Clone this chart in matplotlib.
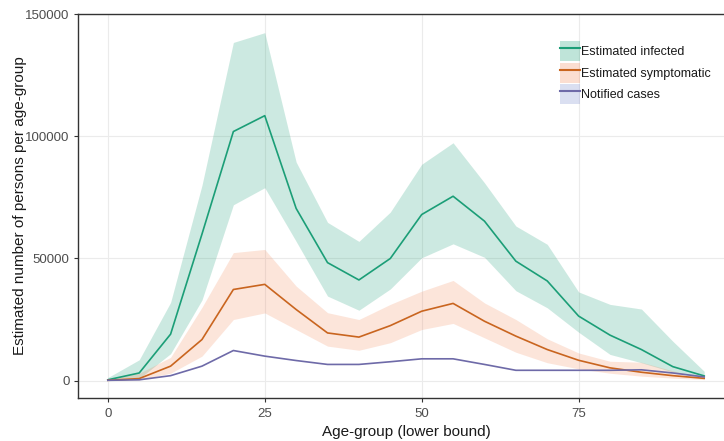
import matplotlib
matplotlib.use("Agg")
import matplotlib.pyplot as plt
from matplotlib.patches import Patch
from matplotlib.lines import Line2D
from matplotlib.legend_handler import HandlerTuple

plt.rcParams["font.family"] = ["Liberation Sans", "DejaVu Sans"]

# Age groups (lower bound, years)
ages = [0, 5, 10, 15, 20, 25, 30, 35, 40, 45, 50, 55, 60, 65, 70, 75, 80, 85, 90, 95]

# Estimated infected: median and uncertainty band
infected = [300, 3100, 19000, 60000, 102000, 108500, 70500, 48300, 41200, 50000,
            68000, 75500, 65300, 48900, 40800, 26400, 18600, 12700, 5700, 1900]
infected_lo = [0, 800, 11000, 33000, 72000, 79000, 57000, 34600, 28800, 37500,
               50300, 56000, 50500, 36800, 29800, 19800, 10700, 7300, 3500, 900]
infected_hi = [1200, 8500, 32000, 80000, 138500, 142500, 89500, 64800, 57000, 69000,
               88600, 97400, 81000, 63300, 55800, 36300, 31200, 29300, 16100, 3800]

# Estimated symptomatic: median and uncertainty band
symptomatic = [100, 800, 5900, 16800, 37300, 39400, 29100, 19500, 17800, 22500,
               28400, 31600, 24300, 18200, 12700, 8300, 5200, 3400, 2000, 900]
symptomatic_lo = [0, 300, 3000, 10000, 25000, 27700, 20900, 14100, 12400, 15500,
                  20900, 23400, 17500, 11600, 7300, 4800, 3000, 1800, 1000, 400]
symptomatic_hi = [300, 3000, 9500, 30000, 52400, 53700, 38700, 27800, 25000, 31200,
                  36600, 41000, 31800, 25000, 17100, 11300, 7900, 7500, 4000, 1200]

# Notified cases
notified = [100, 300, 2000, 5900, 12300, 10000, 8200, 6600, 6600, 7700,
            8900, 8900, 6600, 4200, 4200, 4200, 4200, 4400, 3100, 1500]

series_labels = ["Estimated infected", "Estimated symptomatic", "Notified cases"]
line_colors = ["#1B9E77", "#C9651F", "#6E6AA8"]
fill_colors = ["#1B9E77", "#F4895A", "#7C8CD0"]
fill_alpha = 0.22

fig = plt.figure(figsize=(7.24, 4.41), dpi=100)
ax = fig.add_axes([78 / 724, 43 / 441, 656 / 724, 384 / 441])

ax.fill_between(ages, infected_lo, infected_hi, color=fill_colors[0],
                alpha=fill_alpha, linewidth=0)
ax.fill_between(ages, symptomatic_lo, symptomatic_hi, color=fill_colors[1],
                alpha=fill_alpha, linewidth=0)
ax.plot(ages, infected, color=line_colors[0], lw=1.2)
ax.plot(ages, symptomatic, color=line_colors[1], lw=1.2)
ax.plot(ages, notified, color=line_colors[2], lw=1.2)

ax.set_xlim(-4.75, 99.75)
ax.set_ylim(-7150, 150150)
ax.set_xticks([0, 25, 50, 75])
ax.set_yticks([0, 50000, 100000, 150000])
ax.set_yticklabels(["0", "50000", "100000", "150000"])

ax.grid(True, color="#EBEBEB", lw=0.8)
ax.set_axisbelow(True)
for s in ax.spines.values():
    s.set_color("#333333")
    s.set_linewidth(1.0)

ax.tick_params(axis="both", length=3, width=0.8, color="#333333",
               labelcolor="#4D4D4D", labelsize=9.5)
ax.tick_params(axis="y", pad=3)
ax.tick_params(axis="x", pad=4.5)

ax.set_xlabel("Age-group (lower bound)", fontsize=11, color="#1A1A1A")
ax.set_ylabel("Estimated number of persons per age-group", fontsize=11, color="#1A1A1A")
ax.xaxis.set_label_coords((406 - 78) / 656, (398 - 425) / 384)
ax.yaxis.set_label_coords((27 - 78) / 656, 0.5)

handles = []
for lc, fc in zip(line_colors, fill_colors):
    handles.append((Patch(facecolor=fc, alpha=0.28, edgecolor="none"),
                    Line2D([], [], color=lc, lw=1.5)))
leg = ax.legend(handles, series_labels, handler_map={tuple: HandlerTuple(ndivide=1)},
                loc="upper left", bbox_to_anchor=((560 - 78) / 656, (398 - 41) / 384),
                frameon=False, fontsize=9, handlelength=1.6, handleheight=2.1,
                handletextpad=0.05, labelspacing=0.12, borderpad=0, borderaxespad=0)
for t in leg.get_texts():
    t.set_color("#1A1A1A")

fig.savefig("out.png", dpi=100)
